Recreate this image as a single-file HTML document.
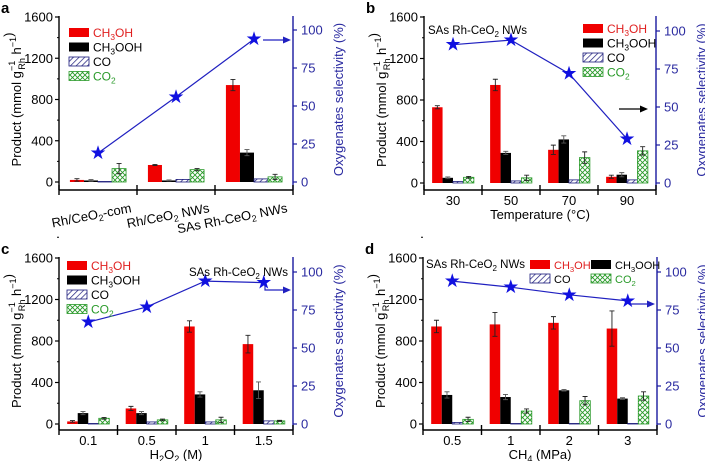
<!DOCTYPE html>
<html><head><meta charset="utf-8"><style>
body{margin:0;background:#fff}
svg{display:block;font-family:"Liberation Sans",Arial,sans-serif}
</style></head><body>
<svg id="chart" width="705" height="461" viewBox="0 0 705 461" xmlns="http://www.w3.org/2000/svg">
<defs>
<pattern id="hatchCO" patternUnits="userSpaceOnUse" width="4" height="4" patternTransform="rotate(45)">
<rect width="4" height="4" fill="#fff"/><line x1="0" y1="0" x2="0" y2="4" stroke="#1a1a7a" stroke-width="1.4"/></pattern>
<pattern id="hatchCO2" patternUnits="userSpaceOnUse" width="5" height="5">
<rect width="5" height="5" fill="#fff"/><path d="M0,0L5,5M5,0L0,5" stroke="#2a9a2a" stroke-width="0.9"/></pattern>
</defs>
</svg>
<script>
// ---- data ----
const catsA=["Rh/CeO2-com","Rh/CeO2 NWs","SAs Rh-CeO2 NWs"];
const meohA=[20,165,940], meohErrA=[12,5,55];
const ooohA=[15,15,285], ooohErrA=[8,5,30];
const coA=[5,25,30];
const co2A=[130,120,50], co2ErrA=[50,10,25];
const selA=[19,56,94];

const catsB=["30","50","70","90"];
const meohB=[730,945,320,60], meohErrB=[15,55,45,15];
const ooohB=[50,290,420,80], ooohErrB=[8,15,35,20];
const coB=[15,20,30,30];
const co2B=[55,50,245,310], co2ErrB=[8,25,55,40];
const selB=[91,94,72,29];

const catsC=["0.1","0.5","1","1.5"];
const meohC=[25,150,940,770], meohErrC=[8,20,55,85];
const ooohC=[105,105,285,325], ooohErrC=[15,15,25,80];
const coC=[5,20,20,30];
const co2C=[55,40,40,30], co2ErrC=[8,8,25,5];
const selC=[67,77,94,93];

const catsD=["0.5","1","2","3"];
const meohD=[940,960,975,920], meohErrD=[60,115,60,170];
const ooohD=[280,260,325,245], ooohErrD=[30,25,8,8];
const coD=[15,5,5,5];
const co2D=[45,125,225,270], co2ErrD=[20,20,40,40];
const selD=[94,90,85,81];

const yTicks=[0,400,800,1200,1600];
const rTicks=[0,25,50,75,100];

const svg=document.getElementById('chart');
const NS="http://www.w3.org/2000/svg";
function el(tag,attrs,parent){const e=document.createElementNS(NS,tag);for(const k in attrs)e.setAttribute(k,attrs[k]);(parent||svg).appendChild(e);return e;}
function richText(parent,x,y,parts,attrs){
  const t=el('text',Object.assign({x:x,y:y},attrs),parent);
  parts.forEach(p=>{const s=el('tspan',{},t);s.textContent=p[0];
    if(p[1]==='sub'){s.setAttribute('font-size','0.7em');s.setAttribute('dy','3');}
    else if(p[1]==='sup'){s.setAttribute('font-size','0.7em');s.setAttribute('dy','-5');}
    else if(p[1]==='up'){s.setAttribute('dy','-3');}
    else if(p[1]==='supg'){s.setAttribute('font-size','0.7em');s.setAttribute('dy','-6');}
    else if(p[1]==='subg'){s.setAttribute('font-size','0.7em');s.setAttribute('dy','10');s.setAttribute('dx','-9');}
    else if(p[1]==='upg'){s.setAttribute('dy','-4');}
    });
  return t;
}
function label(cat){
  const m=cat.split("CeO2");
  if(m.length===1) return [[cat]];
  return [[m[0]+"CeO"],["2",'sub'],[m[1],'up']];
}

function panel(p){
  const g=el('g',{});
  
  
  const ys=v=>p.zero-v*(p.zero-p.top)/1600;
  const rs=v=>p.zero-v*1.52;
  const n=p.cats.length, gw=(p.R-p.L)/n;
  const bw=gw*0.18;
  const cx=i=>p.L+gw*(i+0.5);
  const ax=el('line',{x1:p.L,y1:p.top-1,x2:p.L,y2:p.axisY,stroke:'#000','stroke-width':1.4},g);
  
  const xa=el('line',{x1:p.L,y1:p.axisY,x2:p.R,y2:p.axisY,stroke:'#000','stroke-width':1.4},g);
  
  const ra=el('line',{x1:p.R,y1:p.top-1,x2:p.R,y2:p.axisY,stroke:'#1a1aa0','stroke-width':1.4},g);
  
  for(let i=0;i<=n;i++){const x=p.L+gw*i;el('line',{x1:x,y1:p.axisY-5,x2:x,y2:p.axisY+5,stroke:'#000','stroke-width':1.4},g);}
  yTicks.forEach(v=>{const y=ys(v);el('line',{x1:p.L-4,y1:y,x2:p.L,y2:y,stroke:'#000','stroke-width':1.2},g);
    el('line',{x1:p.L-2,y1:ys(v+200),x2:p.L,y2:ys(v+200),stroke:'#000','stroke-width':1},g);
    const t=el('text',{x:p.L-6,y:y+4.5,'text-anchor':'end','font-size':13},g);t.textContent=v;
    });
  rTicks.forEach(v=>{const y=rs(v);el('line',{x1:p.R,y1:y,x2:p.R+4,y2:y,stroke:'#1a1aa0','stroke-width':1.2},g);
    const t=el('text',{x:p.R+8,y:y+4.5,'font-size':13,fill:'#2a2aa0'},g);t.textContent=v;
    });
  const series=[[p.meoh,p.meohErr,'#f00000','bar-ch3oh'],[p.oooh,p.ooohErr,'#000','bar-ch3ooh'],[p.co,null,'url(#hatchCO)','bar-co'],[p.co2,p.co2Err,'url(#hatchCO2)','bar-co2']];
  series.forEach((s,k)=>{
    s[0].forEach((v,i)=>{
      const x=cx(i)-2*bw+k*bw;
      const r=el('rect',{x:x,y:ys(v),width:bw,height:p.zero-ys(v),fill:s[2],stroke:k>=2?(k==2?'#1a1a7a':'#2a9a2a'):'none','stroke-width':0.8},g);
      
      if(s[1]){const e=s[1][i];const xm=x+bw/2;
        el('path',{d:`M${xm},${ys(v-e)}V${ys(v+e)}M${xm-2.5},${ys(v+e)}H${xm+2.5}M${xm-2.5},${ys(v-e)}H${xm+2.5}`,stroke:k==1?'#555':'#222','stroke-width':0.9,fill:'none'},g);}
    });
  });
  const pts=p.sel.map((v,i)=>[cx(i),rs(v)]);
  const pl=el('polyline',{points:pts.map(q=>q.join(',')).join(' '),fill:'none',stroke:'#2020c0','stroke-width':1.2},g);
  
  pts.forEach(q=>{const st=el('text',{x:q[0],y:q[1]+6,'text-anchor':'middle','font-size':19,fill:'#1010e0'},g);st.textContent='★';
    });
  p.cats.forEach((c,i)=>{
    if(p.rot){const t=richText(g,0,0,label(c),{'font-size':13,'text-anchor':'end',transform:`translate(${cx(i)+34},${p.axisY+22}) rotate(-11)`});
      }
    else{const t=el('text',{x:cx(i),y:p.axisY+15,'text-anchor':'middle','font-size':13},g);t.textContent=c;
      }
  });
  const yl=richText(g,0,0,[["Product (mmol g"],["−1",'supg'],["Rh",'subg'],[" h",'upg'],["−1",'sup'],[")",'up']],{'font-size':13,'text-anchor':'middle',transform:`translate(${p.L-38},${(p.top+p.zero)/2}) rotate(-90)`});
  
  const rl=el('text',{'font-size':13,'text-anchor':'middle',fill:'#2a2aa0',transform:`translate(${p.R+50},${(p.top+p.zero)/2}) rotate(-90)`},g);
  rl.textContent='Oxygenates selectivity (%)';
  if(p.xtitle){const t=richText(g,(p.L+p.R)/2,p.axisY+29,p.xtitle,{'font-size':13,'text-anchor':'middle'});
    }
  const pt=el('text',{x:p.L-58,y:p.top-4,'font-size':15,'font-weight':'bold'},g);pt.textContent=p.id;
  
  if(p.note){const t=richText(g,p.note[0],p.note[1],[["SAs Rh-CeO"],["2",'sub'],[" NWs",'up']],{'font-size':11.5,'text-anchor':p.note[2]||'start'});
    }
  const leg=[['#f00000',[["CH"],["3",'sub'],["OH",'up']],'#e02020'],['#000',[["CH"],["3",'sub'],["OOH",'up']],'#000'],['url(#hatchCO)',[["CO"]],'#000'],['url(#hatchCO2)',[["CO"],["2",'sub']],'#2a9a2a']];
  leg.forEach((l,k)=>{
    const pos=p.legend(k);
    const r=el('rect',{x:pos[0],y:pos[1],width:20,height:9,fill:l[0],stroke:k==2?'#1a1a7a':(k==3?'#2a9a2a':'none'),'stroke-width':0.8},g);
    
    const t=richText(g,pos[0]+24,pos[1]+9,l[1],{'font-size':p.legFs||12,fill:l[2]});
    
  });
  if(p.arrow){const a=p.arrow;el('path',{d:a.d,stroke:a.c,'stroke-width':1.2,fill:'none'},g);
    el('path',{d:`M${a.tip[0]},${a.tip[1]}l-8,-3.5v7z`,fill:a.c},g);}
  return g;
}

panel({id:'a',L:59,R:293,top:17,zero:182,axisY:190,cats:catsA,rot:true,meoh:meohA,meohErr:meohErrA,oooh:ooohA,ooohErr:ooohErrA,co:coA,co2:co2A,co2Err:co2ErrA,sel:selA,
  legend:k=>[69,28+k*14.5],arrow:{d:'M263,40H288',tip:[291,40],c:'#2020c0'}});
panel({id:'b',L:424,R:656,top:17,zero:183,axisY:190,cats:catsB,meoh:meohB,meohErr:meohErrB,oooh:ooohB,ooohErr:ooohErrB,co:coB,co2:co2B,co2Err:co2ErrB,sel:selB,
  xtitle:[["Temperature (°C)"]],note:[428,34],legend:k=>[583,24+k*14.5],arrow:{d:'M619,109H645',tip:[648,109],c:'#000'}});
panel({id:'c',L:59,R:293,top:258,zero:424,axisY:430,cats:catsC,meoh:meohC,meohErr:meohErrC,oooh:ooohC,ooohErr:ooohErrC,co:coC,co2:co2C,co2Err:co2ErrC,sel:selC,
  xtitle:[["H"],["2",'sub'],["O",'up'],["2",'sub'],[" (M)",'up']],note:[288,276,'end'],legend:k=>[67,261+k*14.5],arrow:{d:'M265,285V290H288',tip:[291,290],c:'#2020c0'}});
panel({id:'d',L:423,R:657,top:258,zero:424,axisY:430,cats:catsD,meoh:meohD,meohErr:meohErrD,oooh:ooohD,ooohErr:ooohErrD,co:coD,co2:co2D,co2Err:co2ErrD,sel:selD,legFs:11,
  xtitle:[["CH"],["4",'sub'],[" (MPa)",'up']],note:[426,268],legend:k=>[530+(k%2)*61,260+Math.floor(k/2)*14],arrow:{d:'M630,304H652',tip:[655,304],c:'#2020c0'}});
</script>
</body></html>
